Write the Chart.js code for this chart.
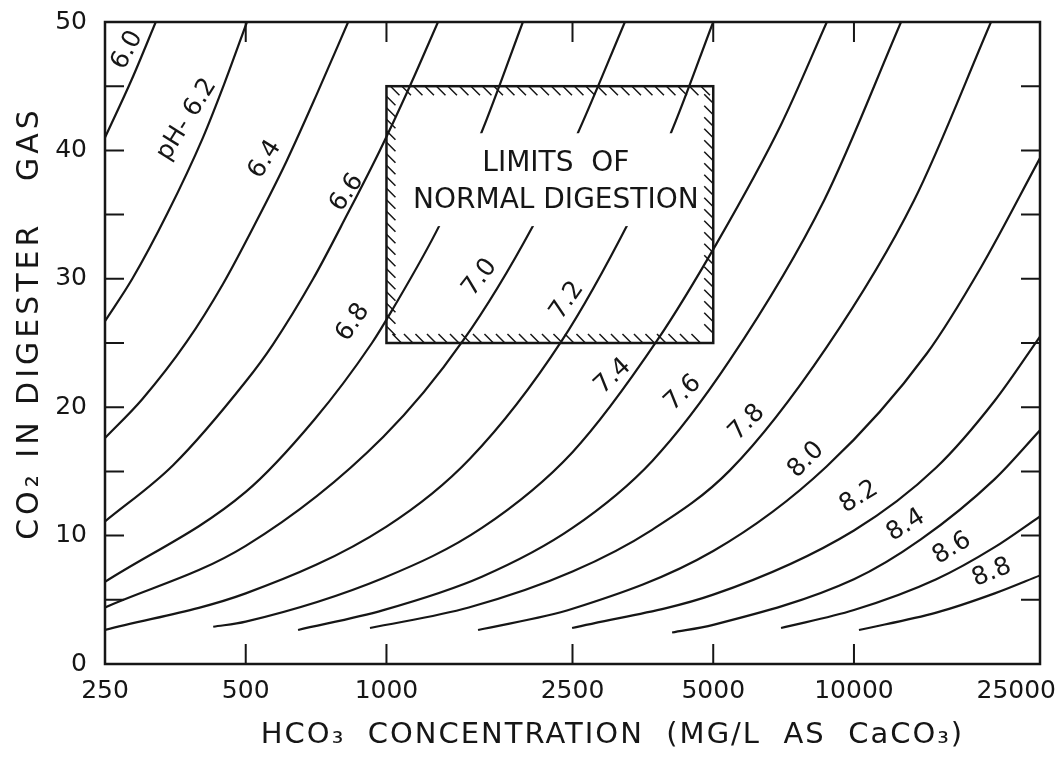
<!DOCTYPE html>
<html>
<head>
<meta charset="utf-8">
<title>CO2 in digester gas vs HCO3 concentration</title>
<script src="https://cdn.jsdelivr.net/npm/chart.js@4.4.1/dist/chart.umd.min.js"></script>
<style>
  html, body { margin: 0; padding: 0; background: #fff; }
  #wrap { width: 1064px; height: 764px; }
</style>
</head>
<body>
<div id="wrap"><canvas id="phChart"></canvas></div>
<script>
// axis ticks (HCO3 in mg/L as CaCO3 on a log axis, CO2 in %)
const xTicks = [250, 500, 1000, 2500, 5000, 10000, 25000];
const xTickLabels = ['250', '500', '1000', '2500', '5000', '10000', '25000'];
const yTicks = [0, 5, 10, 15, 20, 25, 30, 35, 40, 45, 50];

// pH lines: HCO3 (mg/L) and CO2 (%)
const ph60X = [250, 285, 321];
const ph60Y = [41.0, 45.5, 50];
const ph62X = [250, 286, 340, 405, 450, 503];
const ph62Y = [26.7, 30.0, 35.1, 41.0, 45.2, 50];
const ph64X = [250, 300, 374, 447, 529, 612, 710, 828];
const ph64Y = [17.6, 20.6, 25.1, 29.6, 34.6, 39.2, 44.4, 50];
const ph66X = [250, 350, 500, 572, 697, 824, 968, 1122, 1289];
const ph66Y = [11.1, 15.5, 22.0, 24.9, 30.0, 35.0, 40.0, 45.0, 50];
const ph68X = [250, 500, 700, 931, 1026, 1300, 1593, 1958];
const ph68Y = [6.4, 13.4, 19.0, 25.0, 27.5, 34.2, 41.3, 50];
const ph70X = [250, 500, 985, 1459, 2049, 2556, 3236];
const ph70Y = [4.4, 9.2, 17.7, 25.2, 34.0, 41.2, 50];
const ph72X = [250, 500, 1000, 1510, 2374, 3319, 4043, 4999];
const ph72Y = [2.65, 5.5, 10.7, 16.0, 25.2, 34.6, 41.2, 50];
const ph74X = [426, 500, 985, 1600, 2500, 3793, 5093, 6982, 8750];
const ph74Y = [2.9, 3.3, 6.7, 10.6, 16.5, 25.2, 32.8, 42.0, 50];
const ph76X = [647, 985, 1600, 2500, 3700, 5433, 8630, 12610];
const ph76Y = [2.65, 4.2, 6.8, 10.6, 15.8, 23.7, 36.1, 50];
const ph78X = [922, 1500, 2500, 3700, 5433, 8750, 13440, 19640];
const ph78Y = [2.8, 4.4, 7.2, 10.45, 15.1, 24.7, 36.1, 50];
const ph80X = [1570, 2500, 5000, 8750, 14330, 18700, 25000];
const ph80Y = [2.65, 4.3, 8.8, 15.4, 24.2, 30.9, 39.4];
const ph82X = [2495, 5000, 10000, 15000, 20000, 25000];
const ph82Y = [2.8, 5.4, 10.4, 15.3, 20.5, 25.5];
const ph84X = [4083, 5000, 10000, 13900, 20000, 25000];
const ph84Y = [2.45, 3.05, 6.6, 9.7, 14.4, 18.2];
const ph86X = [6982, 10000, 15000, 20000, 25000];
const ph86Y = [2.8, 4.2, 6.6, 9.1, 11.5];
const ph88X = [10250, 15000, 20000, 25000];
const ph88Y = [2.65, 4.0, 5.5, 6.9];

const phNames = ['6.0', '6.2', '6.4', '6.6', '6.8', '7.0', '7.2', '7.4', '7.6', '7.8', '8.0', '8.2', '8.4', '8.6', '8.8'];
const phXs = [ph60X, ph62X, ph64X, ph66X, ph68X, ph70X, ph72X, ph74X, ph76X, ph78X, ph80X, ph82X, ph84X, ph86X, ph88X];
const phYs = [ph60Y, ph62Y, ph64Y, ph66Y, ph68Y, ph70Y, ph72Y, ph74Y, ph76Y, ph78Y, ph80Y, ph82Y, ph84Y, ph86Y, ph88Y];

// labels written along the lines (anchor in data units, angle in degrees)
const lineLabels = ['6.0', 'pH- 6.2', '6.4', '6.6', '6.8', '7.0', '7.2', '7.4', '7.6', '7.8', '8.0', '8.2', '8.4', '8.6', '8.8'];
const lineLabelAt = [[279, 47.8], [374, 42.4], [550, 39.3], [823, 36.7], [848, 26.6], [1585, 30.1], [2434, 28.3],
  [3051, 22.4], [4306, 21.1], [5902, 18.8], [7900, 15.9], [10250, 13.0], [12920, 10.8], [16200, 9.0], [19720, 7.1]];
const lineLabelAngle = [-62, -58, -58, -55, -55, -52, -55, -43, -43, -45, -45, -31, -32, -31, -22];

// limits of normal digestion
const boxX = [1000, 5000];
const boxY = [25, 45];

const ink = '#161616';
const font = '"DejaVu Sans", sans-serif';

const datasets = phNames.map((name, i) => ({
  label: 'pH ' + name,
  data: phXs[i].map((v, j) => ({ x: v, y: phYs[i][j] })),
  showLine: true,
  borderColor: ink,
  borderWidth: 2.2,
  pointRadius: 0,
  cubicInterpolationMode: 'monotone'
}));

const overlay = {
  id: 'overlay',
  afterDatasetsDraw(chart) {
    const { ctx, chartArea: a, scales: { x, y } } = chart;
    ctx.save();
    ctx.strokeStyle = ink;
    ctx.fillStyle = ink;

    // box with hatching and its text
    const bl = x.getPixelForValue(boxX[0]), br = x.getPixelForValue(boxX[1]);
    const bt = y.getPixelForValue(boxY[1]), bb = y.getPixelForValue(boxY[0]);
    const cx = (bl + br) / 2 + 6;
    const t1 = y.getPixelForValue(39.0), t2 = y.getPixelForValue(36.05);
    ctx.fillStyle = '#fff';
    ctx.fillRect(bl + 14, t1 - 30, br - bl - 20, t2 - t1 + 55);
    ctx.fillStyle = ink;
    ctx.lineWidth = 2.5;
    ctx.strokeRect(bl, bt, br - bl, bb - bt);
    ctx.lineWidth = 1.5;
    const h = 9, step = 11.5;
    ctx.beginPath();
    for (let px = bl + 4; px < br - h; px += step) { ctx.moveTo(px, bt); ctx.lineTo(px + h, bt + h); }
    for (let px = bl + h + 6; px <= br - 2; px += step) { ctx.moveTo(px - h, bb - h); ctx.lineTo(px, bb); }
    for (let py = bt + 10; py < bb - h; py += step) { ctx.moveTo(bl, py); ctx.lineTo(bl + h, py + h); }
    for (let py = bt + h + 8; py <= bb - 2; py += step) { ctx.moveTo(br - h, py - h); ctx.lineTo(br, py); }
    ctx.stroke();
    ctx.font = '28px ' + font;
    ctx.textAlign = 'center';
    ctx.textBaseline = 'middle';
    ctx.fillText('LIMITS  OF', cx, t1, 170);
    ctx.fillText('NORMAL DIGESTION', cx, t2, 292);

    // pH labels along the lines
    ctx.font = '25px ' + font;
    lineLabels.forEach((txt, i) => {
      const px = x.getPixelForValue(lineLabelAt[i][0]);
      const py = y.getPixelForValue(lineLabelAt[i][1]);
      ctx.save();
      ctx.translate(px, py);
      ctx.rotate(lineLabelAngle[i] * Math.PI / 180);
      ctx.fillText(txt, 0, 0);
      ctx.restore();
    });

    // frame and inward ticks
    ctx.lineWidth = 2.5;
    ctx.strokeRect(a.left, a.top, a.right - a.left, a.bottom - a.top);
    ctx.lineWidth = 2;
    ctx.beginPath();
    xTicks.slice(1, -1).forEach(v => {
      const px = x.getPixelForValue(v);
      ctx.moveTo(px, a.bottom); ctx.lineTo(px, a.bottom - 20);
      ctx.moveTo(px, a.top); ctx.lineTo(px, a.top + 20);
    });
    yTicks.slice(1, -1).forEach(v => {
      const py = y.getPixelForValue(v);
      ctx.moveTo(a.left, py); ctx.lineTo(a.left + 19, py);
      ctx.moveTo(a.right, py); ctx.lineTo(a.right - 19, py);
    });
    ctx.stroke();

    // x tick labels and axis titles
    ctx.font = '25px ' + font;
    xTicks.forEach((v, i) => {
      const w = ctx.measureText(xTickLabels[i]).width;
      const px = Math.min(x.getPixelForValue(v), chart.width - 8 - w / 2);
      ctx.fillText(xTickLabels[i], px, a.bottom + 27);
    });
    ctx.font = '29px ' + font;
    ctx.letterSpacing = '2px';
    ctx.fillText('HCO\u2083  CONCENTRATION  (MG/L  AS  CaCO\u2083)', (a.left + a.right) / 2 + 40, a.bottom + 71);
    ctx.font = '30px ' + font;
    ctx.letterSpacing = '4px';
    ctx.save();
    ctx.translate(30, (a.top + a.bottom) / 2 - 20);
    ctx.rotate(-Math.PI / 2);
    ctx.fillText('CO\u2082 IN DIGESTER   GAS', 0, 0);
    ctx.restore();
    ctx.restore();
  }
};

new Chart(document.getElementById('phChart').getContext('2d'), {
  type: 'scatter',
  data: { datasets: datasets },
  options: {
    responsive: true,
    maintainAspectRatio: false,
    animation: false,
    events: [],
    devicePixelRatio: 1,
    layout: { padding: { left: 0, right: 24, top: 22, bottom: 0 } },
    plugins: {
      legend: { display: false },
      tooltip: { enabled: false },
      title: { display: false }
    },
    scales: {
      x: {
        type: 'logarithmic',
        min: 250,
        max: 25000,
        grid: { display: false },
        border: { display: false },
        ticks: { display: false },
        afterFit: s => { s.height = 100; s.paddingLeft = 0; s.paddingRight = 0; }
      },
      y: {
        min: 0,
        max: 50,
        grid: { display: false },
        border: { display: false },
        ticks: { stepSize: 10, padding: 10, color: ink, font: { family: 'DejaVu Sans', size: 25 } },
        afterFit: s => { s.width = 105; s.paddingTop = 0; s.paddingBottom = 0; }
      }
    }
  },
  plugins: [overlay]
});
</script>
</body>
</html>
